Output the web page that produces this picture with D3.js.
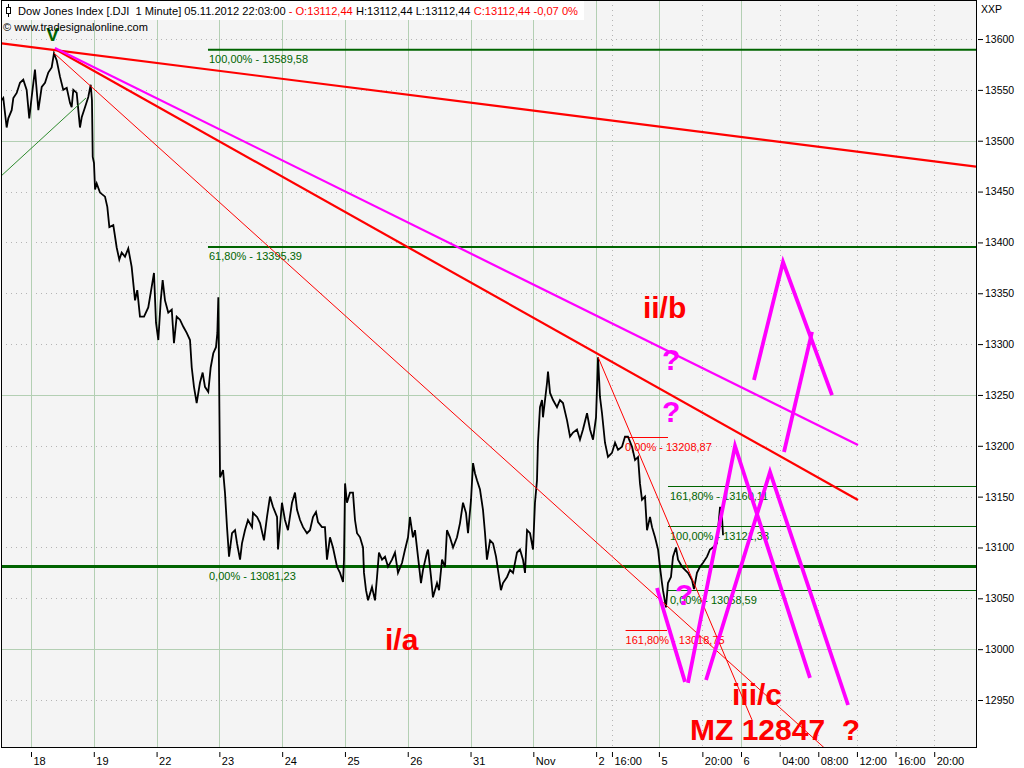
<!DOCTYPE html>
<html><head><meta charset="utf-8">
<script src="https://cdn.jsdelivr.net/npm/d3@7"></script>
<style>
html,body{margin:0;padding:0;background:#fff;}
svg{display:block;font-family:"Liberation Sans",Arial,sans-serif;}
text{white-space:pre;}
</style></head><body>
<svg id="c" width="1024" height="768"></svg>
<script>
// ---------------- DATA ----------------
// time axis: trading hours counted from the 18 Oct session open
const priceTime = [-3.03,-2.87,-2.52,-2.35,-2.00,-1.83,-1.48,-1.14,-0.80,-0.45,-0.18,0.07,0.41,0.76,1.11,1.45,1.79,2.14,2.38,2.66,3.00,3.34,3.70,4.04,4.21,4.38,4.73,5.07,5.25,5.59,5.93,6.18,6.31,6.39,6.52,6.63,6.80,7.14,7.66,7.90,8.11,8.52,8.87,9.14,9.39,9.73,10.07,10.42,10.77,11.00,11.28,11.70,12.14,12.49,12.73,12.94,13.18,13.43,13.63,13.87,14.21,14.57,14.80,15.08,15.42,15.77,16.12,16.46,16.64,16.87,17.15,17.49,17.77,18.01,18.35,18.60,18.87,19.15,19.29,19.39,
19.57,19.88,20.08,20.29,20.50,20.81,21.12,21.33,21.64,21.84,22.15,22.46,22.88,22.98,23.40,23.71,24.12,24.43,24.74,25.05,25.47,25.57,25.98,26.29,26.60,27.02,27.33,27.54,27.85,28.16,28.57,28.88,29.19,29.50,29.71,30.12,30.43,30.64,30.95,31.26,31.68,31.99,32.30,32.40,32.51,32.71,33.02,33.33,33.54,33.75,34.06,34.37,34.47,34.68,34.89,35.30,35.61,35.82,36.02,36.34,36.65,36.96,37.37,37.68,37.99,38.41,38.72,39.03,39.23,39.54,39.75,40.06,40.37,40.58,40.99,41.10,41.41,41.61,42.03,42.24,42.55,42.86,43.06,43.37,43.69,44.10,44.41,44.72,45.03,45.24,45.55,45.76,45.96,46.17,46.48,46.79,47.00,47.20,47.52,47.83,48.14,48.34,48.65,48.86,49.28,49.59,49.90,50.31,50.62,50.93,51.14,51.35,51.66,51.97,
52.17,52.38,52.48,52.69,52.90,53.00,53.42,53.52,53.73,54.04,54.45,54.76,55.07,55.49,55.80,56.11,56.52,56.83,57.14,57.56,57.87,58.18,58.49,58.70,58.90,59.11,59.42,59.73,60.14,60.46,60.77,61.18,61.49,61.80,62.22,62.53,62.84,63.04,63.25,63.56,63.77,64.08,64.29,64.60,64.91,65.11,65.32,65.42,65.73,65.94,66.25,66.46,66.77,66.98,67.39,67.70,68.01,68.43,68.63,68.94,69.25,69.57,69.98,70.29,70.60,71.01,71.12,71.33,71.53,71.64];
const priceValue = [13540,13542,13513,13522,13530,13542,13547,13557,13560,13550,13522,13543,13570,13530,13553,13557,13567,13572,13586,13579,13563,13550,13552,13537,13533,13550,13547,13513,13523,13533,13543,13555,13540,13484,13478,13452,13458,13449,13445,13435,13415,13417,13395,13383,13390,13386,13394,13376,13343,13353,13327,13327,13336,13356,13370,13321,13304,13343,13363,13343,13331,13334,13301,13327,13324,13317,13311,13304,13277,13258,13242,13262,13272,13258,13253,13277,13291,13297,13311,13346,
13169,13176,13154,13120,13091,13114,13117,13104,13088,13104,13117,13127,13120,13134,13130,13124,13107,13130,13150,13140,13130,13098,13144,13127,13117,13144,13154,13137,13127,13120,13114,13117,13130,13135,13125,13120,13120,13088,13110,13100,13081,13075,13066,13088,13163,13144,13154,13154,13127,13114,13110,13100,13075,13058,13048,13061,13048,13071,13095,13088,13091,13081,13088,13095,13075,13085,13098,13110,13130,13110,13117,13091,13065,13078,13095,13098,13071,13051,13065,13058,13088,13081,13117,13110,13100,13110,13124,13144,13134,13114,13147,13183,13173,13166,13157,13137,13114,13088,13107,13104,13091,13078,13058,13065,13071,13078,13075,13095,13098,13088,13075,13117,13114,13098,
13144,13166,13203,13238,13245,13228,13262,13273,13252,13245,13238,13245,13242,13225,13209,13213,13216,13206,13216,13232,13216,13206,13228,13287,13248,13232,13203,13189,13193,13203,13196,13199,13209,13209,13199,13186,13189,13163,13147,13150,13117,13130,13120,13110,13098,13081,13065,13058,13041,13065,13071,13091,13100,13088,13081,13078,13075,13068,13059,13075,13081,13085,13091,13098,13100,13104,13117,13140,13130,13112];

const dayTickLabels = ["18","19","22","23","24","25","26","31","Nov","2","5","6"];
const dayTickTimes  = [0,6.5,13,19.5,26,32.5,39,45.5,52,58.5,65,73.5];
const hourTickLabels = ["16:00","20:00","04:00","08:00","12:00","16:00","20:00"];
const hourTickTimes  = [60.14,69.5,77.5,81.5,85.5,89.5,93.5];
const priceTicks = [12950,13000,13050,13100,13150,13200,13250,13300,13350,13400,13450,13500,13550,13600];
const priceMajorGrid = [13000,13250,13500];

// trend lines [time, price] start / end
const trendStart = [[-3.03,13595.8],[2.48,13590.2],[2.48,13591.2],[2.38,13586.2],[58.70,13287.3],[-3.21,13464.3]];
const trendEnd   = [[97.83,13474.5],[85.61,13146.7],[85.61,13200.8],[82.71,12897.9],[74.64,12930.4],[5.69,13542.0]];

// Fibonacci levels
const fibMajorValues = [13589.58,13395.39,13081.23];
const fibMajorPct    = ["100,00%","61,80%","0,00%"];
const fibMajorFrom   = [18.32,18.32,-3.3];
const fibMinorValues = [13160.11,13121.33,13058.59];
const fibMinorPct    = ["161,80%","100,00%","0,00%"];
const fibMinorFrom   = [65.94,65.94,65.94];
const fibRedValues   = [13208.87,13018.75];
const fibRedPct      = ["0,00%","161,80%"];
const fibRedFrom     = [61.49,61.55];
const fibRedTo       = [65.94,65.84];

// projected wave paths (magenta)
const projA = [[64.80,13060.2],[67.70,12967.8]];
const projB = [[68.01,12966.8],[72.88,13199.8],[80.64,12971.7]];
const projC = [[69.88,12969.7],[76.50,13174.2],[84.58,12945.1]];
const projD = [[74.84,13264.7],[77.85,13380.7],[82.92,13249.9]];
const projE = [[77.95,13193.9],[80.85,13312.0]];

// annotations
const waveLabels = ["ii/b","i/a","iii/c","MZ 12847  ?"];
const waveLabelTimes = [63.35,36.65,72.57,68.22];
const waveLabelPrices = [13325.7,12999.2,12945.1,12910.7];
const questionTimes = [65.32,65.32,66.67];
const questionPrices = [13274.5,13223.4,13043.5];
const peakMark = {label:"V", time:2.23, price:13598};

const headerParts = ["Dow Jones Index [.DJI  1 Minute] 05.11.2012 22:03:00 ","- O:13112,44 ","H:13112,44 L:13112,44 ","C:13112,44 -0,07 0%"];
const headerRed = [false,true,false,true];

// ---------------- DRAW ----------------
const svg = d3.select("#c");
const L=1, R=976, T=1, B=748;
const x = d3.scaleLinear().domain([-3.106, 97.826]).range([L, R]);
const y = d3.scaleLinear().domain([12902.8, 13637.4]).range([B, T]);
const GREEN="#006400", GRID="#b3cfb3", DOT="#b4b4b4", RED="#ff0000", MAG="#ff00ff";

svg.append("rect").attr("width",1024).attr("height",768).attr("fill","#fff");
svg.append("rect").attr("x",L).attr("y",0).attr("width",R-L).attr("height",B).attr("fill","#f4f4f4");

svg.append("defs").append("clipPath").attr("id","pc").append("rect")
  .attr("x",L).attr("y",0).attr("width",R-L).attr("height",B);
const g = svg.append("g").attr("clip-path","url(#pc)");

// grid
priceTicks.forEach(v=>{
  const major = priceMajorGrid.includes(v);
  g.append("line").attr("x1",L).attr("x2",R).attr("y1",Math.round(y(v))+0.5).attr("y2",Math.round(y(v))+0.5)
   .attr("stroke",major?GRID:DOT).attr("stroke-width",1).attr("stroke-dasharray",major?null:"1,4");
});
dayTickTimes.forEach(t=>{
  g.append("line").attr("x1",Math.round(x(t))+0.5).attr("x2",Math.round(x(t))+0.5).attr("y1",0).attr("y2",B)
   .attr("stroke",GRID).attr("stroke-width",1);
});
hourTickTimes.forEach(t=>{
  g.append("line").attr("x1",Math.round(x(t))+0.5).attr("x2",Math.round(x(t))+0.5).attr("y1",0).attr("y2",B)
   .attr("stroke",DOT).attr("stroke-width",1).attr("stroke-dasharray","1,4");
});

const fmt = v => d3.format(".2f")(v).replace(".", ",");

// fib major
fibMajorValues.forEach((v,i)=>{
  const yy = y(v);
  g.append("line").attr("x1",x(fibMajorFrom[i])).attr("x2",R).attr("y1",yy).attr("y2",yy)
   .attr("stroke",GREEN).attr("stroke-width",i===2?3:2);
  g.append("text").attr("x",x(18.32)+1).attr("y",yy+13).attr("fill",GREEN).attr("font-size","11px")
   .text(fibMajorPct[i]+" - "+fmt(v));
});
// fib minor
fibMinorValues.forEach((v,i)=>{
  const yy = Math.round(y(v))+0.5;
  g.append("line").attr("x1",x(fibMinorFrom[i])).attr("x2",R).attr("y1",yy).attr("y2",yy)
   .attr("stroke",GREEN).attr("stroke-width",1.2);
  g.append("text").attr("x",x(fibMinorFrom[i])+2).attr("y",yy+13).attr("fill",GREEN).attr("font-size","11px")
   .text(fibMinorPct[i]+" - "+fmt(v));
});
// fib red
fibRedValues.forEach((v,i)=>{
  const yy = Math.round(y(v))+0.5;
  g.append("line").attr("x1",x(fibRedFrom[i])).attr("x2",x(fibRedTo[i])).attr("y1",yy).attr("y2",yy)
   .attr("stroke",RED).attr("stroke-width",1.2);
  g.append("text").attr("x",x(fibRedFrom[i])).attr("y",yy+13).attr("fill",RED).attr("font-size","11px")
   .text(fibRedPct[i]+" - "+fmt(v));
});

// price
const pts = priceTime.map((t,i)=>[t,priceValue[i]]);
g.append("path").datum(pts).attr("fill","none").attr("stroke","#000").attr("stroke-width",1.8)
 .attr("stroke-linejoin","miter")
 .attr("d", d3.line().x(d=>x(d[0])).y(d=>y(d[1])));

// trend lines
const trendColor = [RED,RED,MAG,RED,RED,"#2e8b2e"];
const trendWidth = [2.2,2.2,2.2,1,1,1];
trendStart.forEach((s,i)=>{
  g.append("line").attr("x1",x(s[0])).attr("y1",y(s[1])).attr("x2",x(trendEnd[i][0])).attr("y2",y(trendEnd[i][1]))
   .attr("stroke",trendColor[i]).attr("stroke-width",trendWidth[i]);
});

// magenta projections
const pl = d3.line().x(d=>x(d[0])).y(d=>y(d[1]));
[projA,projB,projC,projD,projE].forEach(p=>{
  g.append("path").datum(p).attr("fill","none").attr("stroke",MAG).attr("stroke-width",3.8)
   .attr("stroke-linejoin","miter").attr("d",pl);
});

// annotations
questionTimes.forEach((t,i)=>{
  g.append("text").attr("x",x(t)).attr("y",y(questionPrices[i])).attr("fill",MAG)
   .attr("font-size","30px").attr("font-weight","bold").text("?");
});
waveLabels.forEach((s,i)=>{
  g.append("text").attr("x",x(waveLabelTimes[i])).attr("y",y(waveLabelPrices[i])).attr("fill",RED)
   .attr("font-size","30px").attr("font-weight","bold").text(s);
});
svg.append("text").attr("x",x(peakMark.time)).attr("y",y(peakMark.price)).attr("text-anchor","middle")
 .attr("fill",GREEN).attr("font-size","19px").attr("font-weight","bold").text(peakMark.label);

// frame
svg.append("rect").attr("x",1.5).attr("y",0.5).attr("width",975).attr("height",747)
 .attr("fill","none").attr("stroke","#000").attr("stroke-width",1);

// right axis
const ya = svg.append("g").attr("transform",`translate(978,0)`)
  .call(d3.axisRight(y).tickValues(priceTicks).tickSize(5).tickPadding(2).tickFormat(d3.format("d")));
ya.select(".domain").remove();
ya.selectAll("text").attr("font-size","10.5px").attr("font-family","Liberation Sans, Arial, sans-serif").attr("fill","#000");
ya.selectAll("line").attr("stroke","#000");
svg.append("text").attr("x",981).attr("y",13).attr("font-size","10.5px").text("XXP");

// bottom axis
const allTicks = dayTickTimes.concat(hourTickTimes);
const allLabels = dayTickLabels.concat(hourTickLabels);
const xa = svg.append("g").attr("transform",`translate(0,752)`)
  .call(d3.axisBottom(x).tickValues(allTicks).tickSize(5).tickFormat((d,i)=>allLabels[i]));
xa.select(".domain").remove();
xa.selectAll("line").attr("stroke","#000");
xa.selectAll("text").attr("text-anchor","start").attr("x",2).attr("y",13).attr("dy",0)
  .attr("font-size","11px").attr("font-family","Liberation Sans, Arial, sans-serif").attr("fill","#000");

// header
svg.append("rect").attr("x",2).attr("y",1).attr("width",582).attr("height",19).attr("fill","#fff");
svg.append("line").attr("x1",8.5).attr("x2",8.5).attr("y1",4).attr("y2",17).attr("stroke","#000");
svg.append("rect").attr("x",6.5).attr("y",7.5).attr("width",4).attr("height",6).attr("fill","#fff").attr("stroke","#000");
const ht = svg.append("text").attr("x",18).attr("y",15).attr("font-size","11px");
headerParts.forEach((s,i)=>ht.append("tspan").attr("fill",headerRed[i]?RED:"#000").text(s));
const hl = ht.node().getComputedTextLength();
ht.attr("font-size",(11*560/hl).toFixed(2)+"px");
const ct = svg.append("text").attr("x",3).attr("y",31).attr("font-size","11px").text("© www.tradesignalonline.com");
const cl = ct.node().getComputedTextLength();
ct.attr("font-size",(11*145/cl).toFixed(2)+"px");
</script>
</body></html>
